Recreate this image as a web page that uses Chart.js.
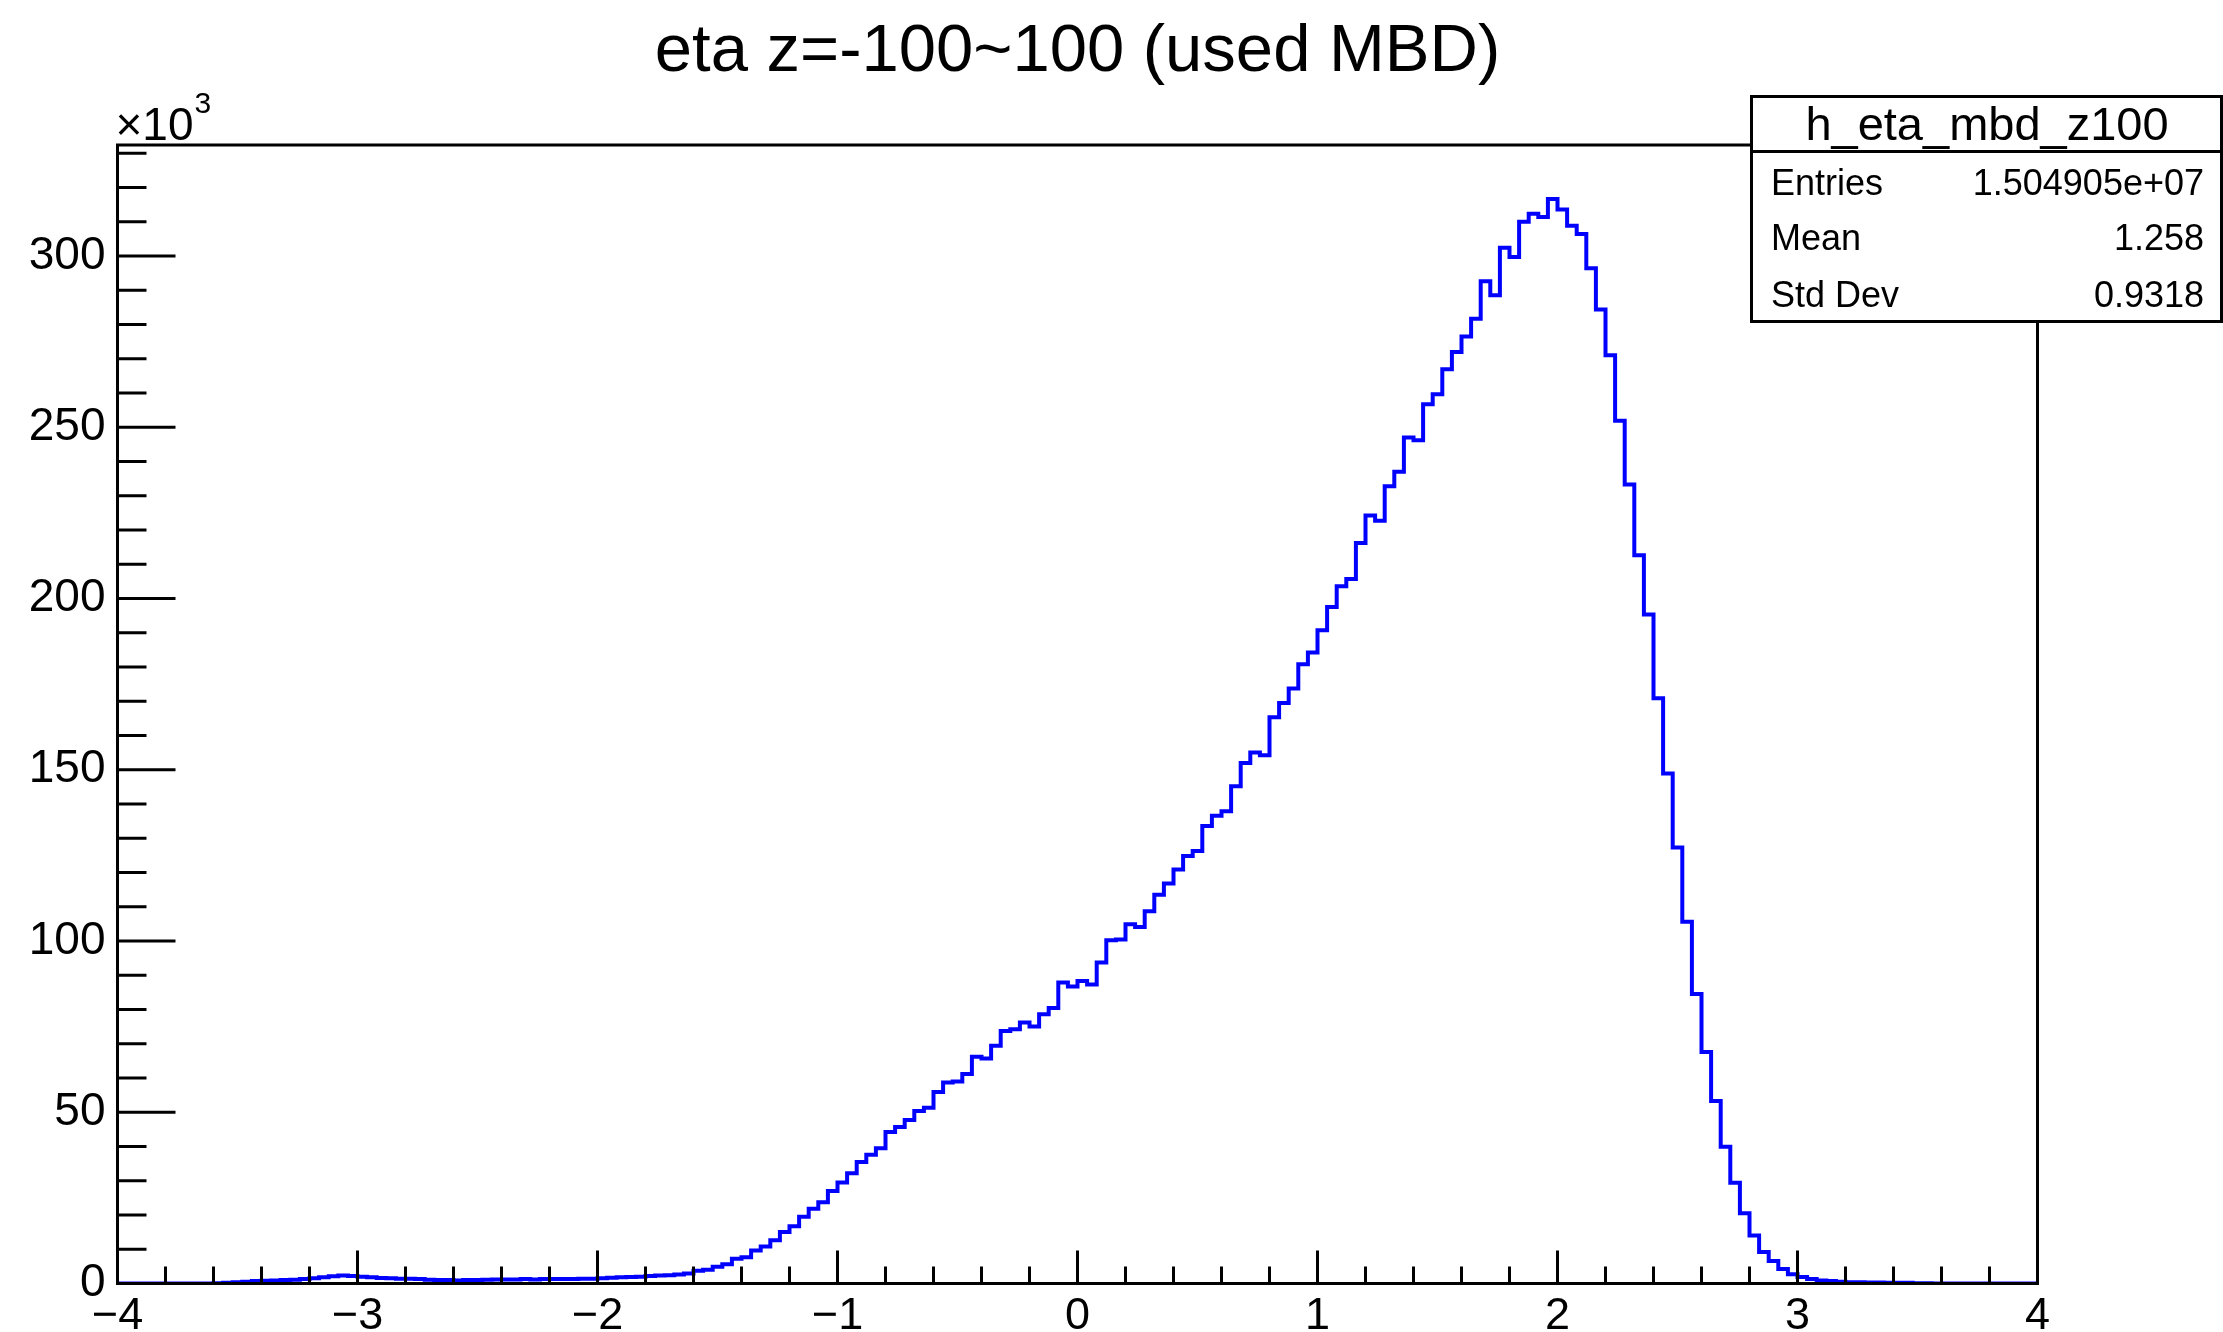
<!DOCTYPE html>
<html>
<head>
<meta charset="utf-8">
<title>eta z=-100~100 (used MBD)</title>
<script src="https://cdn.jsdelivr.net/npm/chart.js@4.4.1/dist/chart.umd.min.js"></script>
<style>
  html, body { margin: 0; padding: 0; background: #fff; }
  #wrap { width: 2223px; height: 1332px; }
</style>
</head>
<body>
<div id="wrap"><canvas id="hEta" width="2223" height="1332"></canvas></div>
<script>
// h_eta_mbd_z100 : 200 bins from -4 to 4, contents in units of 10^3
const histTitle = 'eta z=-100~100 (used MBD)';
const histName = 'h_eta_mbd_z100';
const xMin = -4;
const xMax = 4;
const nBins = 200;
const yMax = 332.4;

const binContents = [
  0, 0, 0, 0, 0, 0, 0, 0, 0, 0, 0.1, 0.2,
  0.4, 0.5, 0.7, 0.8, 0.9, 1.0, 1.1, 1.3, 1.5, 1.8,
  2.1, 2.3, 2.2, 2.0, 1.8,
  1.6, 1.5, 1.4, 1.4, 1.3,
  1.1, 1.0, 1.0, 0.9, 1.0, 1.0, 1.1,
  1.2, 1.2, 1.2, 1.3, 1.2, 1.3, 1.3,
  1.3, 1.3, 1.4, 1.4, 1.5,
  1.7, 1.8, 1.9, 2.0, 2.2, 2.3, 2.4, 2.6,
  2.9,
  3.7, 4.0, 4.9, 5.6, 7.2, 7.7, 9.6, 10.8, 12.6, 15.0,
  16.7, 19.5, 21.8, 23.7, 27.0, 29.5, 32.2, 35.5, 37.6, 39.5,
  44.2, 45.7, 47.7, 50.4, 51.3, 55.9, 58.7, 59.0, 61.2, 66.2,
  65.7, 69.4, 73.7, 74.2, 76.2, 75.0, 78.6, 80.4, 87.9, 86.7,
  88.3, 87.3, 93.7, 100.2, 100.4, 104.9, 104.1, 108.7, 113.5, 116.8,
  120.9, 124.8, 126.3, 133.6, 136.6, 137.9, 145.2, 152.0, 155.0, 154.2,
  165.3, 169.5,
  173.7, 180.8, 184.2, 190.7, 197.5, 203.6, 205.7, 216.2, 224.2, 222.7,
  232.8, 237.0, 247.0, 246.2, 256.7, 259.6, 266.9, 272.0, 276.5,
  281.7, 292.6, 288.5, 302.4, 299.7, 310.0, 312.3, 311.4, 316.6, 313.6,
  308.8, 306.4, 296.4, 284.4, 271.0,
  251.9, 233.3, 212.6, 195.3, 170.9, 148.9, 127.3, 105.6, 84.5, 67.6,
  53.3, 39.9, 29.4, 20.5, 14.0,
  9.2, 6.6, 4.2, 2.7, 1.9, 1.3, 0.9, 0.7, 0.5, 0.4,
  0.4, 0.3, 0.3, 0.2, 0.2, 0.2, 0.1, 0.1, 0, 0,
  0, 0, 0, 0, 0, 0, 0, 0, 0
];

const xTicks = [-4, -3, -2, -1, 0, 1, 2, 3, 4];
const yTicks = [0, 50, 100, 150, 200, 250, 300];

const statsLabels = ['Entries', 'Mean', 'Std Dev'];
const statsValues = ['1.504905e+07', '1.258', '0.9318'];

const FONT = '"Liberation Sans", Arial, Helvetica, sans-serif';

// one point per lower bin edge, plus the upper edge of the last bin
function buildSteps() {
  const width = (xMax - xMin) / nBins;
  const pts = binContents.map((v, i) => ({ x: xMin + i * width, y: v }));
  pts.push({ x: xMax, y: binContents[binContents.length - 1] });
  return pts;
}

/**
 * Cadre, graduations internes, x10^3 et boite de stats facon ROOT
 */
const rootDecor = {
  id: 'rootDecor',
  afterDraw(chart) {
    const ctx = chart.ctx;
    const a = chart.chartArea;
    const xs = chart.scales.x;
    const ys = chart.scales.y;

    ctx.save();
    ctx.strokeStyle = '#000';
    ctx.lineWidth = 3;

    // graduations x
    ctx.beginPath();
    for (let i = 0; i < xTicks.length; i++) {
      const px = xs.getPixelForValue(xTicks[i]);
      ctx.moveTo(px, a.bottom);
      ctx.lineTo(px, a.bottom - 33);
      if (i < xTicks.length - 1) {
        const step = (xTicks[i + 1] - xTicks[i]) / 5;
        for (let k = 1; k < 5; k++) {
          const pm = xs.getPixelForValue(xTicks[i] + k * step);
          ctx.moveTo(pm, a.bottom);
          ctx.lineTo(pm, a.bottom - 17);
        }
      }
    }
    // graduations y
    const yStep = (yTicks[1] - yTicks[0]) / 5;
    for (let k = 0; yTicks[0] + k * yStep <= yMax; k++) {
      const v = yTicks[0] + k * yStep;
      const py = ys.getPixelForValue(v);
      const len = (k % 5 === 0) ? 58 : 29;
      ctx.moveTo(a.left, py);
      ctx.lineTo(a.left + len, py);
    }
    ctx.stroke();

    // cadre
    ctx.strokeRect(a.left, a.top, a.right - a.left, a.bottom - a.top);

    // x10^3
    ctx.fillStyle = '#000';
    ctx.textAlign = 'left';
    ctx.textBaseline = 'alphabetic';
    ctx.font = '46px ' + FONT;
    ctx.fillText('\u00d710', a.left - 2, 140);
    const w10 = ctx.measureText('\u00d710').width;
    ctx.font = '30px ' + FONT;
    ctx.fillText('3', a.left - 2 + w10 + 1, 113);

    // boite de stats
    const bx = 1751.5, by = 96.5, bw = 470, bh = 225;
    ctx.fillStyle = '#fff';
    ctx.fillRect(bx, by, bw, bh);
    ctx.strokeRect(bx, by, bw, bh);
    ctx.beginPath();
    ctx.moveTo(bx, 151.5);
    ctx.lineTo(bx + bw, 151.5);
    ctx.stroke();

    ctx.fillStyle = '#000';
    ctx.font = '47px ' + FONT;
    ctx.textAlign = 'center';
    ctx.fillText(histName, 1987, 140);

    ctx.font = '36px ' + FONT;
    const rowY = [195, 250, 307];
    statsLabels.forEach((lab, i) => {
      ctx.textAlign = 'left';
      ctx.fillText(lab, 1771, rowY[i]);
      ctx.textAlign = 'right';
      ctx.fillText(statsValues[i], 2204, rowY[i]);
    });
    ctx.restore();
  }
};

document.addEventListener('DOMContentLoaded', function() {
  const canvas = document.getElementById('hEta');

  new Chart(canvas, {
    type: 'line',
    data: {
      datasets: [{
        label: histName,
        data: buildSteps(),
        stepped: 'before',
        borderColor: '#0000ff',
        borderWidth: 4,
        pointRadius: 0,
        fill: false,
        tension: 0
      }]
    },
    options: {
      responsive: false,
      devicePixelRatio: 1,
      animation: false,
      layout: {
        padding: { left: 0, top: 0, right: 185.5, bottom: 0 }
      },
      plugins: {
        legend: { display: false },
        tooltip: { enabled: false },
        title: {
          display: true,
          text: histTitle,
          fullSize: false,
          color: '#000',
          font: { family: FONT, size: 67, weight: 'normal', lineHeight: 1.2 },
          padding: { top: 12, bottom: 52.6 }
        }
      },
      scales: {
        x: {
          type: 'linear',
          min: xMin,
          max: xMax,
          grid: { display: false, drawTicks: false },
          border: { display: false },
          afterBuildTicks: s => { s.ticks = xTicks.map(v => ({ value: v })); },
          afterFit: s => { s.height = 48.5; },
          ticks: {
            padding: 6,
            color: '#000',
            maxRotation: 0,
            autoSkip: false,
            font: { family: FONT, size: 45 },
            callback: v => (v < 0 ? '\u2212' + Math.abs(v) : String(v))
          }
        },
        y: {
          type: 'linear',
          min: 0,
          max: yMax,
          grid: { display: false, drawTicks: false },
          border: { display: false },
          afterBuildTicks: s => { s.ticks = yTicks.map(v => ({ value: v })); },
          afterFit: s => { s.width = 117.5; },
          ticks: {
            padding: 12,
            color: '#000',
            font: { family: FONT, size: 46 },
            callback: v => String(v)
          }
        }
      }
    },
    plugins: [rootDecor]
  });
});
</script>
</body>
</html>
